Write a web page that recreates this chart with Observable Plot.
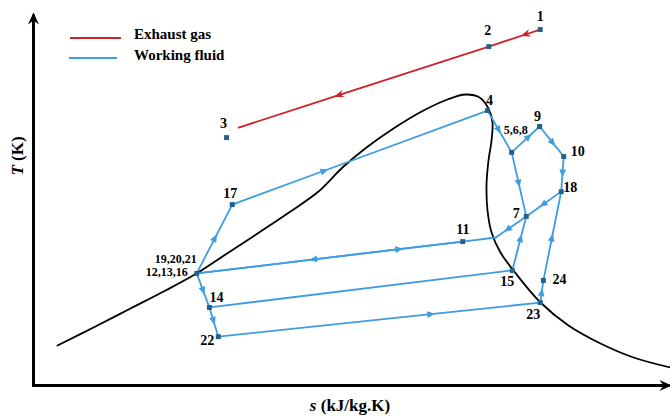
<!DOCTYPE html>
<html>
<head>
<meta charset="utf-8">
<script src="https://cdn.jsdelivr.net/npm/d3@7"></script>
<script src="https://cdn.jsdelivr.net/npm/@observablehq/plot@0.6"></script>
<style>
  body { margin: 0; background: #fff; }
  #chart { position: relative; width: 670px; height: 416px; font-family: "Liberation Serif", "Times New Roman", serif; font-weight: bold; color: #000; }
  #chart svg { position: absolute; left: 0; top: 0; }
  .swatch { position: absolute; height: 2px; }
  .legend-text { position: absolute; font-size: 15px; line-height: 16px; white-space: nowrap; }
  .axis-title { position: absolute; font-size: 17px; line-height: 18px; white-space: nowrap; transform: translate(-50%, -50%); }
</style>
</head>
<body>
<div id="chart">
  <div class="swatch" style="left:70px; top:37px; width:51px; background:#d0202a;"></div>
  <div class="legend-text" style="left:134px; top:26px;">Exhaust gas</div>
  <div class="swatch" style="left:69px; top:57px; width:48px; background:#3d9de0;"></div>
  <div class="legend-text" style="left:134px; top:47px;">Working fluid</div>
  <div class="axis-title" style="left:350px; top:406px;"><i>s</i> (kJ/kg.K)</div>
  <div class="axis-title" style="left:18px; top:156px; transform: translate(-50%, -50%) rotate(-90deg);"><i>T</i> (K)</div>
</div>
<script>
// Axis extents (arbitrary entropy / temperature units; the diagram is schematic)
const sDomain = [0, 100];
const tDomain = [0, 100];

// Cycle state points
const stateIds = ["1", "2", "3", "3e", "4", "5,6,8", "9", "10", "18", "7", "7a", "11", "12", "17", "14", "22", "15", "23", "24"];
const stateS   = [79.8, 71.7, 30.4, 32.3, 71.5, 75.3, 79.7, 83.5, 83.1, 77.6, 72.8, 67.6, 25.7, 31.3, 27.7, 29.1, 75.4, 79.8, 80.3];
const stateT   = [96.2, 91.6, 67.0, 69.7, 74.3, 63.0, 70.0, 61.9, 52.4, 45.7, 40.0, 38.9, 30.3, 48.9, 21.1, 13.2, 31.1, 22.4, 28.4];

// States shown with a square marker
const markedStates = ["1", "2", "3", "4", "5,6,8", "9", "10", "18", "7", "11", "12", "17", "14", "22", "15", "23", "24"];

// State labels and the state each one names
const labelTexts  = ["1", "2", "3", "4", "5,6,8", "9", "10", "18", "7", "11", "19,20,21", "12,13,16", "17", "14", "22", "15", "23", "24"];
const labelStates = ["1", "2", "3", "4", "5,6,8", "9", "10", "18", "7", "11", "12", "12", "17", "14", "22", "15", "23", "24"];

// Exhaust gas path (cooling from state 1 towards 3)
const gasEdges = [["1", "2"], ["2", "3e"]];

// Working fluid process lines
const fluidEdges = [
  ["12", "17"], ["17", "4"], ["4", "5,6,8"], ["5,6,8", "9"], ["9", "10"], ["10", "18"],
  ["18", "7"], ["7", "7a"], ["7a", "11"], ["11", "12"], ["12", "11"],
  ["5,6,8", "7"], ["15", "7"], ["14", "15"], ["22", "23"],
  ["12", "14"], ["14", "22"], ["23", "24"], ["24", "18"]
];

// Saturation dome
const domeS = [3.78, 9.76, 15.28, 20.79, 25.67, 30.24, 35.28, 40.47, 44.88, 48.66, 52.44, 56.69, 61.42, 65.20, 68.03, 70.24, 71.65, 72.28, 72.13, 71.65, 71.34, 71.50, 72.13, 73.54, 75.59, 79.84, 84.25, 89.29, 94.49, 100.31];
const domeT = [10.81, 15.95, 20.81, 25.68, 30.27, 35.41, 41.08, 47.03, 52.43, 58.92, 64.32, 69.46, 74.32, 77.30, 78.65, 77.84, 74.86, 71.08, 66.22, 60.81, 54.05, 47.30, 41.35, 35.95, 31.08, 22.43, 16.22, 11.35, 7.57, 4.86];

// ---- presentation ----
const RED = "#d0202a", BLUE = "#3d9de0", NODE = "#23608c";

// where along each edge its direction arrow sits (null: no arrow)
const gasArrowAt = [0.29, 0.6];
const fluidArrowAt = [0.51, 0.36, 0.46, 0.6, 0.54, 0.47, 0.51, 0.61, null, 0.56, 0.76, 0.48, 0.59, null, 0.66, 0.5, 0.45, 0.45, 0.48];

// label offsets in px: [dx, dy, fontSize]
const labelStyle = {
  "1": [0, -13, 14], "2": [-1, -16, 14], "3": [-3, -14, 14], "4": [2, -10, 14],
  "5,6,8": [4, -22, 12], "9": [-2, -10, 14], "10": [14, -5, 14], "18": [9, -4, 14],
  "7": [-10, -3, 14], "11": [0, -12, 14], "19,20,21": [-21, -14, 12], "12,13,16": [-30, -1, 12],
  "17": [-2, -11, 14], "14": [7, -10, 14], "22": [-11, 4, 14], "15": [-5, 11, 14],
  "23": [-7, 12, 14], "24": [16, -1, 14]
};

const idx = new Map(stateIds.map((id, i) => [id, i]));
const pt = (id) => ({s: stateS[idx.get(id)], T: stateT[idx.get(id)]});

// polyline rows per edge; an extra vertex at the arrow position carries the mid marker
function edgeRows(edges, arrowAt) {
  return edges.flatMap(([a, b], k) => {
    const p = {...pt(a), edge: k}, q = {...pt(b), edge: k};
    const t = arrowAt[k];
    if (t == null) return [p, q];
    return [p, {s: p.s + t * (q.s - p.s), T: p.T + t * (q.T - p.T), edge: k}, q];
  });
}

// SVG marker drawn in pixel units around the vertex, +x along the direction of travel
function pathMarker(d) {
  return (color) => {
    const ns = "http://www.w3.org/2000/svg";
    const m = document.createElementNS(ns, "marker");
    m.setAttribute("viewBox", "-20 -20 40 40");
    m.setAttribute("markerUnits", "userSpaceOnUse");
    m.setAttribute("markerWidth", 40);
    m.setAttribute("markerHeight", 40);
    m.setAttribute("refX", 0);
    m.setAttribute("refY", 0);
    m.setAttribute("orient", "auto");
    m.setAttribute("overflow", "visible");
    const p = document.createElementNS(ns, "path");
    p.setAttribute("d", d);
    p.setAttribute("fill", color);
    p.setAttribute("stroke", "none");
    m.appendChild(p);
    return m;
  };
}
const blueArrow = pathMarker("M4.5,0L-3.5,-3.4L-3.5,3.4Z");
const redArrow = pathMarker("M5,0L-5,-3.8L-2,0L-5,3.8Z");
const axisArrow = pathMarker("M3,0L-9,-5.5L-5,0L-9,5.5Z");

const domeRows = domeS.map((s, i) => ({s, T: domeT[i]}));
const gasRows = edgeRows(gasEdges, gasArrowAt);
const fluidRows = edgeRows(fluidEdges, fluidArrowAt);
const nodeRows = markedStates.map((id) => ({id, ...pt(id)}));
const labelRows = labelTexts.map((text, i) => ({text, ...pt(labelStates[i])}));

const xAxisRows = [{s: sDomain[0], T: tDomain[0]}, {s: sDomain[1], T: tDomain[0]}];
const yAxisRows = [{s: sDomain[0], T: tDomain[0]}, {s: sDomain[0], T: tDomain[1]}];

const plot = Plot.plot({
  width: 670,
  height: 416,
  marginLeft: 33,
  marginRight: 2,
  marginTop: 15,
  marginBottom: 31,
  x: {domain: sDomain, axis: null},
  y: {domain: tDomain, axis: null},
  style: {background: "transparent", fontFamily: "'Liberation Serif', 'Times New Roman', serif"},
  marks: [
    Plot.line(domeRows, {x: "s", y: "T", curve: "catmull-rom", stroke: "#000", strokeWidth: 1.8}),
    Plot.line(gasRows, {x: "s", y: "T", z: "edge", stroke: RED, strokeWidth: 1.8, markerMid: redArrow}),
    Plot.line(fluidRows, {x: "s", y: "T", z: "edge", stroke: BLUE, strokeWidth: 1.8, markerMid: blueArrow}),
    Plot.dot(nodeRows, {x: "s", y: "T", symbol: "square", r: 2.8, fill: NODE}),
    ...labelRows.map((d) => {
      const [dx, dy, fontSize] = labelStyle[d.text];
      return Plot.text([d], {x: "s", y: "T", text: "text", dx, dy, fontSize, fontWeight: "bold", fill: "#000"});
    }),
    Plot.line(xAxisRows, {x: "s", y: "T", stroke: "#000", strokeWidth: 3, markerEnd: axisArrow}),
    Plot.line(yAxisRows, {x: "s", y: "T", stroke: "#000", strokeWidth: 3, markerEnd: axisArrow})
  ]
});
document.getElementById("chart").prepend(plot);
</script>
</body>
</html>
